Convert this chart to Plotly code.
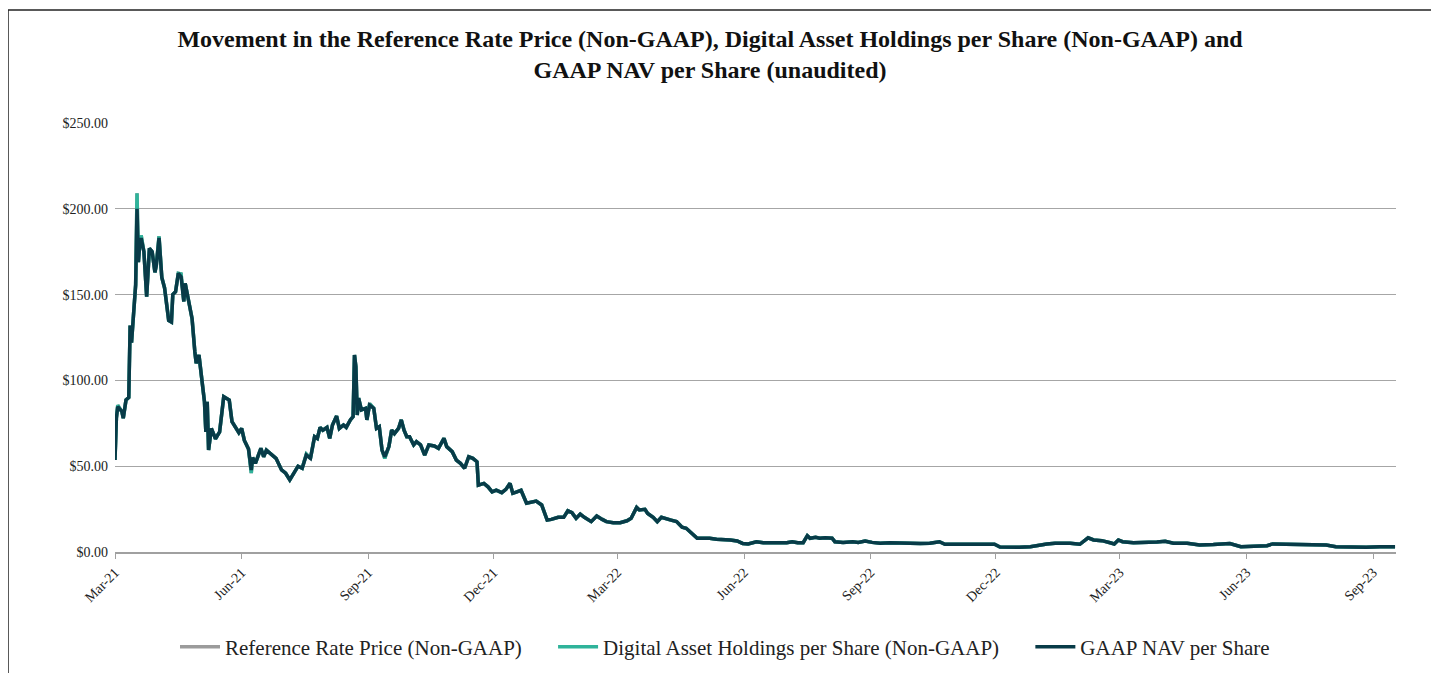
import pandas as pd
import plotly.graph_objects as go

# Days since 2021-03-01
days = [
    0, 1, 2, 5, 6, 8, 10, 11, 12, 13,
    15, 16, 17, 18, 19, 21, 23, 25, 27, 29,
    30, 32, 34, 36, 39, 41, 42, 44, 46, 48,
    50, 51, 53, 56, 58, 59, 61, 63, 65, 66,
    67, 68, 70, 73, 76, 79, 81, 83, 85, 87,
    90, 92, 94, 97, 99, 100, 102, 106, 108, 110,
    114, 117, 121, 124, 127, 130, 133, 136, 139, 142,
    145, 147, 149, 151, 154, 156, 158, 161, 163, 166,
    168, 171, 173, 174, 175, 176, 177, 179, 182, 183,
    185, 188, 190, 192, 194, 196, 199, 201, 203, 206,
    208, 210, 212, 214, 217, 219, 222, 225, 228, 232,
    235, 239, 241, 245, 248, 251, 254, 257, 260, 263,
    264, 268, 271, 274, 277, 281, 284, 287, 289, 292,
    295, 299, 303, 306, 310, 314, 317, 322, 326, 329,
    332, 335, 338, 341, 346, 350, 354, 357, 362, 367,
    372, 375, 379, 381, 385, 387, 391, 394, 397, 401,
    404, 408, 412, 415, 419, 423, 427, 432, 437, 442,
    447, 452, 456, 460, 464, 466, 471, 478, 483, 488,
    492, 496, 500, 503, 505, 509, 512, 516, 521, 523,
    529, 536, 540, 545, 550, 556, 563, 570, 578, 585,
    592, 599, 603, 612, 621, 631, 639, 643, 650, 657,
    665, 672, 677, 683, 689, 694, 701, 707, 711, 717,
    723, 726, 729, 732, 740, 749, 757, 763, 769, 779,
    788, 798, 810, 818, 827, 837, 841, 851, 866, 880,
    887, 900, 909, 919, 930,
]

# GAAP NAV per Share ($)
nav = [
    53.6, 78, 84.7, 81.8, 78, 88.6, 90, 132, 122, 134,
    155.6, 200, 169, 179, 183, 175, 148.8, 177, 175, 163,
    167, 183, 160, 154, 135, 134, 150, 151.7, 162.4, 160.4,
    146, 156.6, 147.8, 136, 116.7, 110, 114.8, 99, 87.6, 70,
    87.6, 59.4, 72, 66, 70, 90.5, 89.6, 88.6, 76, 73,
    69.5, 72, 65, 60, 47.8, 55, 51.7, 60.4, 55.5, 59.4,
    56.5, 54.6, 47.8, 45.9, 42, 45.9, 50, 48.8, 56.5, 54.6,
    67.2, 66.2, 72.6, 71, 72.6, 66.2, 74, 79.2, 72, 74,
    72.6, 77, 78.9, 114.8, 108, 79.8, 89.6, 82.8, 83.7, 77,
    85.7, 83.7, 72, 73, 59.4, 55.5, 61.4, 71, 69, 72,
    77, 71, 67.2, 67.2, 62.4, 64.3, 62.4, 56.5, 62.4, 61.8,
    60.4, 66.2, 61.4, 58.5, 53.6, 51.7, 48.8, 55.5, 54.6, 52.6,
    39, 40, 38, 35, 36, 34.6, 36.5, 40, 34.2, 35.1,
    36, 28.4, 29.3, 29.7, 27.4, 18.6, 19, 20.2, 20.2, 24,
    22.9, 19.6, 22.1, 20.2, 17.7, 21, 19, 17.7, 17.1, 17.1,
    18.2, 19.6, 26, 24.5, 24.9, 22.5, 20.2, 17.7, 20.2, 19,
    18.6, 17.7, 14.4, 13.8, 10.9, 8, 8, 8, 7.4, 7.4,
    7, 6.4, 5, 4.7, 5.4, 6, 5.4, 5.4, 5.8, 5.4,
    6, 5.4, 5.4, 9.5, 8, 8.6, 8, 8.3, 8, 6,
    5.6, 6, 5.6, 6.4, 5.6, 5.1, 5.4, 5.1, 4.9, 4.9,
    5.1, 6, 4.5, 4.3, 4.5, 4.5, 4.5, 2.9, 2.7, 2.7,
    3.1, 4.1, 4.7, 5.1, 5.1, 5.1, 4.5, 8.3, 7, 6.6,
    5.4, 4.7, 7, 6, 5.4, 5.4, 5.8, 6.2, 5.1, 5.1,
    4.1, 4.3, 4.9, 3.1, 3.5, 3.7, 4.7, 4.5, 4.7, 4.1,
    3.1, 2.9, 2.7, 3.1, 3.1,
]

# Points where Digital Asset Holdings per Share differs visibly from NAV (day: value)
holdings_diff = {2: 85.5, 16: 209, 19: 184.5, 32: 184, 48: 162,
                 99: 46, 139: 57, 185: 86.5, 196: 54.5}
holdings = [holdings_diff.get(d, v) for d, v in zip(days, nav)]
# Reference Rate Price lies under the other two lines
reference = list(holdings)

dates = pd.Timestamp("2021-03-01") + pd.to_timedelta(days, unit="D")

names = ["Reference Rate Price (Non-GAAP)",
         "Digital Asset Holdings per Share (Non-GAAP)",
         "GAAP NAV per Share"]
colors = ["#9b9b9b", "#2fb39a", "#083b48"]
series = [reference, holdings, nav]
pad = ["\u00a0" * 5, "\u00a0" * 5, ""]

fig = go.Figure()
for name, color, vals, p in zip(names, colors, series, pad):
    fig.add_trace(go.Scatter(x=dates, y=vals, mode="lines", name=name + p,
                             line=dict(color=color, width=3.5)))

serif = "Liberation Serif, Times New Roman, serif"
# page has an 8px body margin: figure coords = screen coords - 8
W, H = 1431, 665
L, R, T, B = 107, 43, 115, 121
pw, ph = W - L - R, H - T - B

def px_x(x):
    return (x - L) / pw

def px_y(y):
    return (H - B - y) / ph

fig.update_layout(
    width=W, height=H,
    margin=dict(l=L, r=R, t=T, b=B),
    paper_bgcolor="white", plot_bgcolor="white",
    font=dict(family=serif, color="#222222", size=14),
    title=dict(text="<b>Movement in the Reference Rate Price (Non-GAAP), Digital Asset Holdings per Share (Non-GAAP) and<br>GAAP NAV per Share (unaudited)</b>",
               x=702 / W, xanchor="center", xref="container",
               y=1 - 39 / H, yanchor="middle", yref="container",
               font=dict(family=serif, size=24, color="#111111")),
    showlegend=True,
    legend=dict(orientation="h", x=717 / W, xanchor="center", xref="container",
                y=1 - 639 / H, yanchor="middle", yref="container",
                itemwidth=40,
                font=dict(family=serif, size=21, color="#222222")),
    shapes=[
        dict(type="line", xref="paper", yref="paper",
             x0=px_x(0), x1=px_x(0), y0=px_y(2), y1=px_y(H + 5),
             line=dict(color="#222222", width=1.5)),
        dict(type="line", xref="paper", yref="paper",
             x0=px_x(0), x1=px_x(W + 5), y0=px_y(2), y1=px_y(2),
             line=dict(color="#222222", width=1.5)),
    ],
)

fig.update_xaxes(
    type="date",
    range=[pd.Timestamp("2021-03-01"), pd.Timestamp("2021-03-01") + pd.Timedelta(days=930.7)],
    tick0="2021-03-01", dtick="M3", tickformat="%b-%y",
    tickangle=-45, ticks="outside", ticklen=5, tickcolor="#a0a0a0",
    showline=True, linecolor="#a0a0a0", linewidth=1.5,
    showgrid=False, zeroline=False,
    tickfont=dict(family=serif, size=14, color="#222222"),
)
fig.update_yaxes(
    range=[0, 250], dtick=50, tickprefix="$", tickformat=",.2f",
    showgrid=True, gridcolor="#a6a6a6", gridwidth=1,
    zeroline=False, showline=False, ticks="", ticklabelstandoff=6,
    tickfont=dict(family=serif, size=14, color="#222222"),
)

fig.write_html("out.html")
